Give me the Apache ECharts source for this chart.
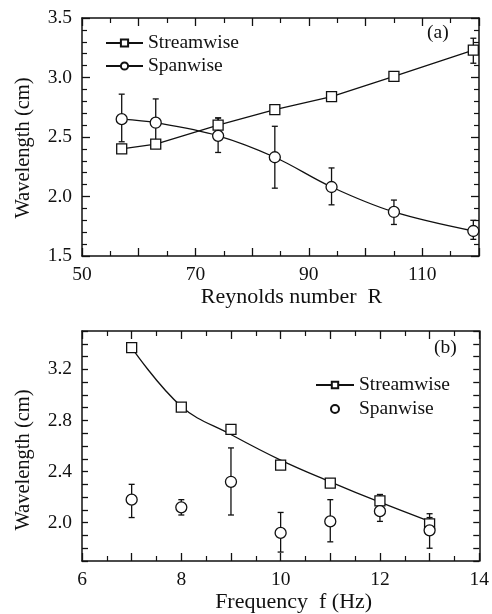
<!DOCTYPE html>
<html>
<head>
<meta charset="utf-8">
<script src="https://cdn.jsdelivr.net/npm/echarts@6/dist/echarts.min.js"></script>
<style>
html,body{margin:0;padding:0;background:#fff;}
#c{width:492px;height:614px;}
</style>
</head>
<body>
<div id="c"></div>
<script>
// ---------- Panel (a): wavelength vs Reynolds number ----------
var reA = [57, 63, 74, 84, 94, 105, 119];
var streamA = [2.40, 2.44, 2.60, 2.73, 2.84, 3.01, 3.23];
var streamA_lo = [null, null, 2.55, 2.70, null, null, 3.12];
var streamA_hi = [null, null, 2.66, 2.76, null, null, 3.33];
var spanA = [2.65, 2.62, 2.51, 2.33, 2.08, 1.87, 1.71];
var spanA_lo = [2.46, 2.42, 2.37, 2.07, 1.93, 1.765, 1.64];
var spanA_hi = [2.86, 2.82, 2.66, 2.59, 2.24, 1.97, 1.80];

// ---------- Panel (b): wavelength vs frequency ----------
var freqB = [7, 8, 9, 10, 11, 12, 13];
var streamB = [3.37, 2.905, 2.73, 2.45, 2.31, 2.17, 1.99];
var streamB_lo = [null, null, 2.71, null, null, 2.12, 1.96];
var streamB_hi = [null, null, 2.76, null, null, 2.22, 2.04];
var streamFitB = [3.37, 2.91, 2.69, 2.49, 2.32, 2.16, 2.01];
var spanB = [2.18, 2.12, 2.32, 1.92, 2.01, 2.09, 1.94];
var spanB_lo = [2.04, 2.06, 2.06, 1.77, 1.85, 2.01, 1.80];
var spanB_hi = [2.30, 2.18, 2.585, 2.08, 2.18, 2.22, 2.07];

var xTicksA = [50, 70, 90, 110];
var xTicksB = [6, 8, 10, 12, 14];
var yTicksA = [1.5, 2.0, 2.5, 3.0, 3.5];
var yTicksB = [2.0, 2.4, 2.8, 3.2];

var FONT = "'Liberation Serif','Times New Roman',serif";
var INK = '#111';

function pairs(xs, ys) { return xs.map(function (x, i) { return [x, ys[i]]; }); }
function errs(xs, lo, hi) {
  var out = [];
  xs.forEach(function (x, i) { if (lo[i] != null) out.push([x, lo[i], hi[i]]); });
  return out;
}
function inList(list, v) { return list.some(function (t) { return Math.abs(t - v) < 1e-6; }); }

function errorBarSeries(name, data, xi, yi) {
  return {
    type: 'custom', name: name, xAxisIndex: xi, yAxisIndex: yi, z: 3,
    silent: true,
    encode: { x: 0, y: [1, 2] },
    data: data,
    renderItem: function (params, api) {
      var x = api.value(0);
      var p1 = api.coord([x, api.value(1)]);
      var p2 = api.coord([x, api.value(2)]);
      var w = 3;
      var st = { stroke: INK, lineWidth: 1.3 };
      return {
        type: 'group',
        children: [
          { type: 'line', shape: { x1: p1[0], y1: p1[1], x2: p2[0], y2: p2[1] }, style: st },
          { type: 'line', shape: { x1: p1[0] - w, y1: p1[1], x2: p1[0] + w, y2: p1[1] }, style: st },
          { type: 'line', shape: { x1: p2[0] - w, y1: p2[1], x2: p2[0] + w, y2: p2[1] }, style: st }
        ]
      };
    }
  };
}

function xAxisPair(gi, min, max, interval, labels, name, namePad) {
  var base = {
    gridIndex: gi, type: 'value', min: min, max: max, interval: interval,
    splitLine: { show: false },
    axisLine: { show: true, onZero: false, lineStyle: { color: INK, width: 1.5 } },
    axisTick: { show: true, inside: true, length: 8, lineStyle: { color: INK, width: 1.3 } },
    minorTick: { show: true, splitNumber: 2, length: 5, lineStyle: { color: INK, width: 1.2 } }
  };
  var bottom = Object.assign({}, base, {
    position: 'bottom',
    name: name, nameLocation: 'middle', nameGap: 30,
    nameTextStyle: { fontFamily: FONT, fontSize: 22, color: INK, padding: namePad },
    axisLabel: {
      show: true, margin: 9, fontFamily: FONT, fontSize: 19.5, color: INK,
      showMinLabel: true, showMaxLabel: true,
      formatter: function (v) { return inList(labels, v) ? String(v) : ''; }
    }
  });
  var top = Object.assign({}, base, { position: 'top', axisLabel: { show: false } });
  return [bottom, top];
}

function yAxisPair(gi, min, max, interval, minorSplit, labels, name, namePad) {
  var base = {
    gridIndex: gi, type: 'value', min: min, max: max, interval: interval,
    splitLine: { show: false },
    axisLine: { show: true, onZero: false, lineStyle: { color: INK, width: 1.5 } },
    axisTick: { show: true, inside: true, length: minorSplit > 1 ? 8 : 6, lineStyle: { color: INK, width: 1.3 } },
    minorTick: { show: minorSplit > 1, splitNumber: minorSplit, length: 5, lineStyle: { color: INK, width: 1.2 } }
  };
  var left = Object.assign({}, base, {
    position: 'left',
    name: name, nameLocation: 'middle', nameGap: 48,
    nameTextStyle: { fontFamily: FONT, fontSize: 20.5, color: INK, padding: namePad },
    axisLabel: {
      show: true, margin: 10, fontFamily: FONT, fontSize: 19.5, color: INK,
      formatter: function (v) { return inList(labels, v) ? v.toFixed(1) : ''; }
    }
  });
  var right = Object.assign({}, base, { position: 'right', axisLabel: { show: false } });
  return [left, right];
}

var xa = xAxisPair(0, 50, 120, 10, xTicksA, 'Reynolds number  R', [0, 0, 0, 22]);
var xb = xAxisPair(1, 6, 14, 1, xTicksB, 'Frequency  f (Hz)', [0, 0, 0, 26]);
var ya = yAxisPair(0, 1.5, 3.5, 0.5, 5, yTicksA, 'Wavelength (cm)', [0, 22, 0, 0]);
var yb = yAxisPair(1, 1.7, 3.5, 0.1, 1, yTicksB, 'Wavelength (cm)', [0, 28, 0, 0]);

var markerStyle = { color: '#fff', borderColor: INK, borderWidth: 1.3, opacity: 1 };
var lineStyle = { color: INK, width: 1.3 };

var option = {
  animation: false,
  backgroundColor: '#fff',
  textStyle: { fontFamily: FONT, color: INK },
  grid: [
    { left: 82, right: 13, top: 18, bottom: 358 },
    { left: 82, right: 12, top: 331, bottom: 48 }
  ],
  xAxis: [xa[0], xa[1], xb[0], xb[1]],
  yAxis: [ya[0], ya[1], yb[0], yb[1]],
  legend: [
    {
      data: ['Streamwise', 'Spanwise'],
      orient: 'vertical', left: 105, top: 33, padding: 0, itemGap: 3,
      itemWidth: 37, itemHeight: 9,
      textStyle: { fontFamily: FONT, fontSize: 19.5, color: INK },
      selectedMode: false
    },
    {
      data: ['Streamwise (b)', 'Spanwise (b)'],
      orient: 'vertical', left: 315, top: 375, padding: 0, itemGap: 4,
      itemWidth: 38, itemHeight: 8,
      formatter: function (n) { return n.replace(' (b)', ''); },
      textStyle: { fontFamily: FONT, fontSize: 19.5, color: INK },
      selectedMode: false
    }
  ],
  graphic: [
    { type: 'text', left: 427, top: 23, style: { text: '(a)', fontFamily: FONT, fontSize: 19.5, fill: INK } },
    { type: 'text', left: 434, top: 338, style: { text: '(b)', fontFamily: FONT, fontSize: 19.5, fill: INK } }
  ],
  series: [
    // panel (a)
    {
      name: 'Streamwise', type: 'line', xAxisIndex: 0, yAxisIndex: 0,
      data: pairs(reA, streamA), symbol: 'rect', symbolSize: 10, showSymbol: true,
      itemStyle: markerStyle, lineStyle: lineStyle, z: 4
    },
    {
      name: 'Spanwise', type: 'line', xAxisIndex: 0, yAxisIndex: 0,
      data: pairs(reA, spanA), symbol: 'circle', symbolSize: 11, showSymbol: true, smooth: 0.35,
      itemStyle: markerStyle, lineStyle: lineStyle, z: 4
    },
    errorBarSeries('Streamwise', errs(reA, streamA_lo, streamA_hi), 0, 0),
    errorBarSeries('Spanwise', errs(reA, spanA_lo, spanA_hi), 0, 0),
    // panel (b)
    {
      name: 'Streamwise (b)', type: 'line', xAxisIndex: 2, yAxisIndex: 2,
      data: pairs(freqB, streamFitB), symbol: 'rect', showSymbol: false, smooth: 0.4,
      itemStyle: markerStyle, lineStyle: lineStyle, z: 2
    },
    {
      name: 'Streamwise (b)', type: 'scatter', xAxisIndex: 2, yAxisIndex: 2,
      data: pairs(freqB, streamB), symbol: 'rect', symbolSize: 10,
      itemStyle: markerStyle, z: 4
    },
    {
      name: 'Spanwise (b)', type: 'scatter', xAxisIndex: 2, yAxisIndex: 2,
      data: pairs(freqB, spanB), symbol: 'circle', symbolSize: 11,
      itemStyle: markerStyle, z: 4
    },
    errorBarSeries('Streamwise (b)', errs(freqB, streamB_lo, streamB_hi), 2, 2),
    errorBarSeries('Spanwise (b)', errs(freqB, spanB_lo, spanB_hi), 2, 2)
  ]
};

var chart = echarts.init(document.getElementById('c'), null, { renderer: 'canvas' });
chart.setOption(option);
</script>
</body>
</html>
